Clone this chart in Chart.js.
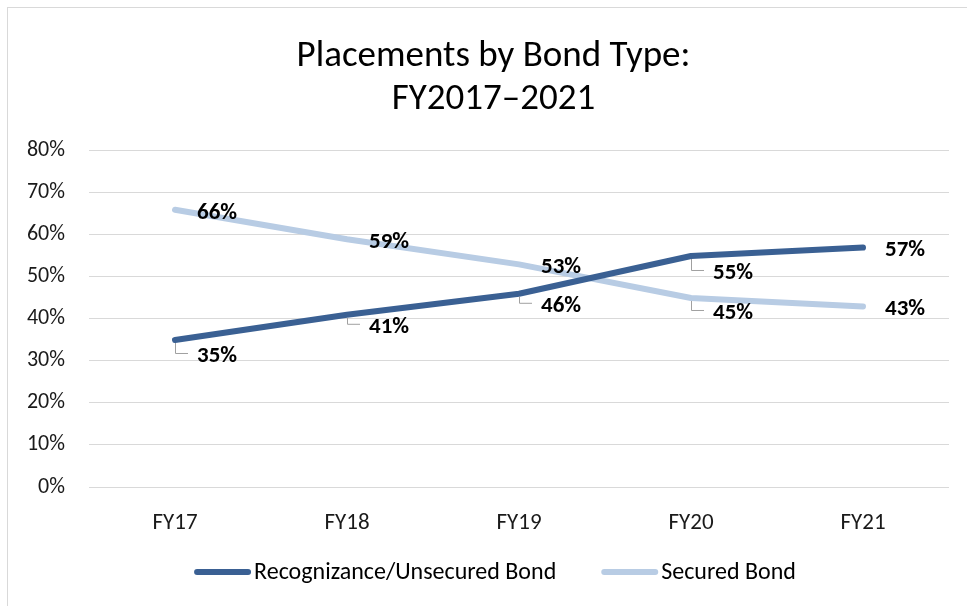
<!DOCTYPE html>
<html>
<head>
<meta charset="utf-8">
<script src="https://cdn.jsdelivr.net/npm/chart.js@4.4.1/dist/chart.umd.min.js"></script>
<style>
  html, body { margin: 0; padding: 0; background: #fff; }
  #frame {
    position: absolute; left: 7px; top: 7px; width: 970px; height: 610px;
    border-left: 1px solid #d9d9d9; border-top: 1px solid #d9d9d9;
  }
  #wrap { position: absolute; left: 0; top: 0; width: 967px; height: 606px; }
</style>
</head>
<body>
<div id="frame"></div>
<div id="wrap"><canvas id="chart" width="967" height="606"></canvas></div>
<script>
// ===== Placements by Bond Type =====

const FONT = "Carlito, Lato, 'Open Sans', sans-serif";

const categories = ['FY17', 'FY18', 'FY19', 'FY20', 'FY21'];
const recognizance = [35, 41, 46, 55, 57];
const secured = [66, 59, 53, 45, 43];
const yTicks = [0, 10, 20, 30, 40, 50, 60, 70, 80];

// leader-line drop for each label in px; 0 = label sits right of the point
const recognizanceLabelDrop = [13, 9, 9, 14, 0];
const securedLabelDrop = [0, 0, 0, 12, 0];

const COLORS = {
  recog: '#3a6093',
  secured: '#b8cce4',
  grid: '#d9d9d9',
  leader: '#a0a0a0',
  text: '#1a1a1a',
};

// ---- Data labels drawn next to each point ----
const dataLabels = {
  id: 'dataLabels',
  afterDatasetsDraw(chart) {
    const ctx = chart.ctx;
    ctx.save();
    ctx.font = `bold 23px ${FONT}`;
    ctx.fillStyle = '#000';
    ctx.textBaseline = 'middle';
    ctx.textAlign = 'left';
    chart.data.datasets.forEach((ds, di) => {
      const meta = chart.getDatasetMeta(di);
      meta.data.forEach((pt, i) => {
        const text = ds.data[i] + '%';
        const drop = ds.labelDrop[i];
        if (!drop) {
          ctx.fillText(text, pt.x + 22, pt.y + 3);
        } else {
          ctx.strokeStyle = COLORS.leader;
          ctx.lineWidth = 1;
          ctx.beginPath();
          ctx.moveTo(pt.x + 0.5, pt.y + 3);
          ctx.lineTo(pt.x + 0.5, pt.y + drop + 0.5);
          ctx.lineTo(pt.x + 13, pt.y + drop + 0.5);
          ctx.stroke();
          ctx.fillText(text, pt.x + 22, pt.y + drop + 3);
        }
      });
    });
    ctx.restore();
  },
};

// ---- Legend drawn below the axis (line swatch hugging its text) ----
const bottomLegend = {
  id: 'bottomLegend',
  afterDraw(chart) {
    const ctx = chart.ctx;
    const swatch = 57, gap = 3, spacing = 45, cy = 572;
    ctx.save();
    ctx.font = `24px ${FONT}`;
    ctx.textBaseline = 'middle';
    const items = chart.data.datasets.map(ds => ({
      label: ds.label, color: ds.borderColor, w: ctx.measureText(ds.label).width,
    }));
    const total = items.reduce((s, it) => s + swatch + gap + it.w, 0) + spacing * (items.length - 1);
    let x = 495 - total / 2;
    items.forEach(it => {
      ctx.strokeStyle = it.color;
      ctx.lineWidth = 6;
      ctx.lineCap = 'round';
      ctx.beginPath();
      ctx.moveTo(x + 3, cy);
      ctx.lineTo(x + swatch - 3, cy);
      ctx.stroke();
      ctx.fillStyle = '#000';
      ctx.fillText(it.label, x + swatch + gap, cy + 1);
      x += swatch + gap + it.w + spacing;
    });
    ctx.restore();
  },
};

// ---- Center the title over the frame rather than the full canvas ----
const titleShift = {
  id: 'titleShift',
  afterLayout(chart) {
    if (chart.titleBlock) chart.titleBlock.left = 38;
  },
};

new Chart(document.getElementById('chart'), {
  type: 'line',
  data: {
    labels: categories,
    datasets: [
      {
        label: 'Recognizance/Unsecured Bond',
        data: recognizance,
        labelDrop: recognizanceLabelDrop,
        borderColor: COLORS.recog,
        backgroundColor: COLORS.recog,
        borderWidth: 6,
        borderCapStyle: 'round',
        borderJoinStyle: 'round',
        pointRadius: 0,
        tension: 0,
      },
      {
        label: 'Secured Bond',
        data: secured,
        labelDrop: securedLabelDrop,
        borderColor: COLORS.secured,
        backgroundColor: COLORS.secured,
        borderWidth: 6,
        borderCapStyle: 'round',
        borderJoinStyle: 'round',
        pointRadius: 0,
        tension: 0,
      },
    ],
  },
  options: {
    responsive: false,
    animation: false,
    layout: { padding: { left: 0, right: 18, top: 35, bottom: 74 } },
    plugins: {
      title: {
        display: true,
        text: ['Placements by Bond Type:', 'FY2017\u20132021'],
        color: '#000',
        font: { family: FONT, size: 37, weight: 'normal', lineHeight: 1.162 },
        padding: { top: 0, bottom: 30 },
      },
      legend: { display: false },
      tooltip: { enabled: false },
    },
    scales: {
      x: {
        offset: true,
        grid: { display: false },
        border: { display: false },
        afterFit: (axis) => { axis.height = 45; },
        ticks: { color: COLORS.text, font: { family: FONT, size: 23 }, padding: 14 },
      },
      y: {
        min: 0,
        max: 80,
        afterBuildTicks: (axis) => { axis.ticks = yTicks.map(v => ({ value: v })); },
        afterFit: (axis) => { axis.width = 89; },
        grid: { color: COLORS.grid, lineWidth: 1, drawTicks: false },
        border: { display: false },
        ticks: {
          color: COLORS.text,
          font: { family: FONT, size: 22 },
          padding: 24,
          callback: (v) => v + '%',
        },
      },
    },
  },
  plugins: [dataLabels, bottomLegend, titleShift],
});
</script>
</body>
</html>
